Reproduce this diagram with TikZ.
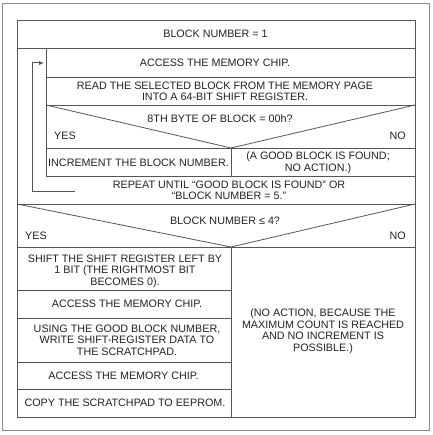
\documentclass[tikz,border=0pt]{standalone}
\usepackage{fontspec}
\setmainfont{Liberation Sans}
\usetikzlibrary{arrows.meta}
\definecolor{lincol}{HTML}{555555}
\definecolor{frmcol}{HTML}{8A8A8A}
\definecolor{txtcol}{HTML}{222222}
\begin{document}
\begin{tikzpicture}[x=1bp,y=-1bp,
  cell/.style={draw=lincol,line width=0.8pt},
  lbl/.style={inner sep=0pt,text=txtcol,font=\fontsize{10.8}{11.6}\selectfont,align=center},
  loopline/.style={draw=lincol,line width=1pt}]
\useasboundingbox (0,0) rectangle (432,435);
\fill[white] (0,0) rectangle (432,435);
% outer frame
\draw[frmcol,line width=0.9pt] (2,3) rectangle (429,430);
% upper section
\draw[cell] (17,20) rectangle (415,204);
\draw[cell] (17,48) -- (415,48);
\draw[cell] (46,48) rectangle (415,176);
\draw[cell] (46,77) -- (415,77);
\draw[cell] (46,105) -- (415,105);
\draw[cell] (46,148) -- (415,148);
\draw[cell] (46,105) -- (231,148) -- (415,105);
\draw[cell] (231,148) -- (231,176);
% lower section
\draw[cell] (17,204) rectangle (415,247);
\draw[cell] (17,204) -- (231,247) -- (415,204);
\draw[cell] (17,247) rectangle (231,417);
\draw[cell] (231,247) rectangle (415,417);
\draw[cell] (17,290) -- (231,290);
\draw[cell] (17,318) -- (231,318);
\draw[cell] (17,362) -- (231,362);
\draw[cell] (17,389) -- (231,389);
% texts
\node[lbl] (t1) at (215.5,34) {BLOCK NUMBER = 1};
\node[lbl] (t2) at (215,62.5) {ACCESS THE MEMORY CHIP.};
\node[lbl] (t3) at (225,91.5) {READ THE SELECTED BLOCK FROM THE MEMORY PAGE\\INTO A 64-BIT SHIFT REGISTER.};
\node[lbl] (d1) at (220,119) {8TH BYTE OF BLOCK = 00h?};
\node[lbl,anchor=west] (d1y) at (54,136) {YES};
\node[lbl,anchor=east] (d1n) at (406,136) {NO};
\node[lbl] (t4) at (138.5,163) {INCREMENT THE BLOCK NUMBER.};
\node[lbl] (t5) at (318,162.5) {(A GOOD BLOCK IS FOUND;\\NO ACTION.)};
\node[lbl] (t6) at (229,190.5) {REPEAT UNTIL “GOOD BLOCK IS FOUND” OR\\“BLOCK NUMBER = 5.”};
\node[lbl] (d2) at (225,221) {BLOCK NUMBER ≤ 4?};
\node[lbl,anchor=west] (d2y) at (25,236) {YES};
\node[lbl,anchor=east] (d2n) at (406,236) {NO};
\node[lbl] (t7) at (125,271) {SHIFT THE SHIFT REGISTER LEFT BY\\1 BIT (THE RIGHTMOST BIT\\BECOMES 0).};
\node[lbl] (t8) at (127,304) {ACCESS THE MEMORY CHIP.};
\node[lbl] (t9) at (127,340) {USING THE GOOD BLOCK NUMBER,\\WRITE SHIFT-REGISTER DATA TO\\THE SCRATCHPAD.};
\node[lbl] (t10) at (123.5,375.5) {ACCESS THE MEMORY CHIP.};
\node[lbl] (t11) at (125,403) {COPY THE SCRATCHPAD TO EEPROM.};
\node[lbl] (t12) at (323,331) {(NO ACTION, BECAUSE THE\\MAXIMUM COUNT IS REACHED\\AND NO INCREMENT IS\\POSSIBLE.)};
% loop arrow
\coordinate (ls) at (75,191);
\coordinate (lc1) at (32,191);
\coordinate (lc2) at (32,63);
\coordinate (le) at (44,63);
\draw[loopline,-{Latex[length=5pt,width=4.5pt]}] (ls) -- (lc1) -- (lc2) -- (le);
\end{tikzpicture}
\end{document}
